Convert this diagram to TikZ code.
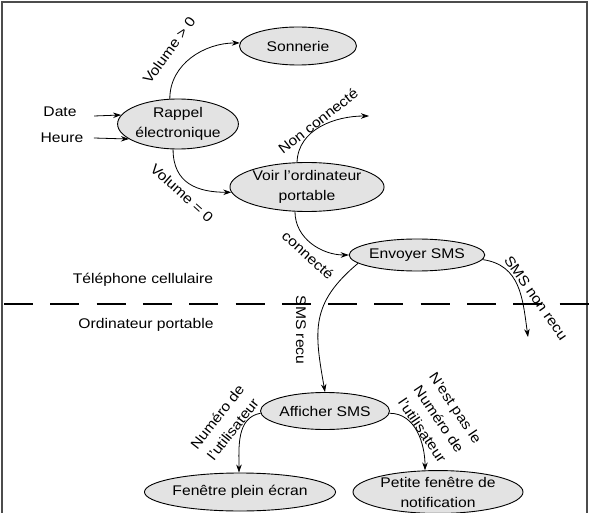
\documentclass[tikz,border=0pt]{standalone}
\usepackage{fontspec}
\setmainfont{Liberation Sans}[FakeStretch=1.12]
\usetikzlibrary{positioning,arrows.meta,shapes.geometric}

\begin{document}
\begin{tikzpicture}[x=1pt,y=1pt,
  every node/.style={font=\fontsize{14}{20}\selectfont},
  etat/.style={draw,ellipse,fill=gray!22,line width=0.9pt,inner sep=0pt,align=center},
  lab/.style={align=center,inner sep=0pt},
  arr/.style={-{Stealth[length=8pt,width=5.5pt]},line width=0.8pt},
  sep/.style={line width=2.4pt,dash pattern=on 29pt off 17.3pt}]
\useasboundingbox (0,0) rectangle (591,-513);
\clip (0,0) rectangle (591,-513);
\draw[line width=2pt,black!70] (2,-2) rectangle (587,-530);
% etats
\node[etat,minimum width=117pt,minimum height=38pt] (son) at (298,-46) {Sonnerie};
\node[etat,minimum width=110pt,minimum height=50pt] (rap) at (178,-124) {Rappel\\électronique};
\node[etat,minimum width=138pt,minimum height=49pt] (voir) at (307,-187) {Voir l’ordinateur\\portable};
\node[etat,minimum width=113pt,minimum height=32pt] (env) at (417,-255) {Envoyer SMS};
\node[etat,minimum width=116pt,minimum height=37pt] (aff) at (325,-411) {Afficher SMS};
\node[etat,minimum width=151pt,minimum height=38pt] (fpe) at (240,-492) {Fenêtre plein écran};
\node[etat,minimum width=170pt,minimum height=40pt] (pfn) at (438,-492) {Petite fenêtre de\\notification};
% entrees
\node (date) at (60,-112) {Date};
\node (heure) at (62,-138) {Heure};
\draw[arr] ([xshift=14pt,yshift=-4pt]date.east) -- (rap.171);
\draw[arr] ([xshift=7pt]heure.east) -- (rap.197);
% zones
\coordinate (sepL) at (4,-304);
\coordinate (sepR) at (591,-304);
\draw[sep] (sepL) -- (sepR);
\node (tel) at (143,-280) {Téléphone cellulaire};
\node (ordi) at (146,-325) {Ordinateur portable};
% fins libres
\coordinate (nc) at (369,-116);
\coordinate (snr) at (528,-337);
% transitions
\draw[arr] (rap.108) to[out=90,in=180] (son.177);
\draw[arr] (rap.-101) to[out=-90,in=180,looseness=1.2] (voir.184);
\draw[arr] (voir.112) to[out=88,in=180] (nc);
\draw[arr] (voir.-116) to[out=-90,in=180] (env.west);
\draw[arr] (env.188) to[out=-140,in=100,looseness=1.2] (aff.north);
\draw[arr] (env.-4) to[out=-8,in=98,looseness=1.1] (snr);
\draw[arr] (aff.182) to[out=190,in=90] (fpe.93);
\draw[arr] (aff.-2) to[out=0,in=90] (pfn.121);
% etiquettes
\node[lab,rotate=54] (lvp) at (169,-50) {Volume > 0};
\node[lab,rotate=-42] (lve) at (182,-193) {Volume = 0};
\node[lab,rotate=38] (lnc) at (318,-121) {Non connecté};
\node[lab,rotate=-42] (lco) at (308,-255) {connecté};
\node[lab,rotate=-90] (lsr) at (301,-330) {SMS recu};
\node[lab,rotate=-55] (lsn) at (536,-298) {SMS non recu};
\node[lab,rotate=52] (lnu) at (225,-423) {Numéro de\\l'utilisateur};
\node[lab,rotate=-56] (lnp) at (439,-419) {N'est pas le\\Numéro de\\l'utilisateur};
\end{tikzpicture}
\end{document}
